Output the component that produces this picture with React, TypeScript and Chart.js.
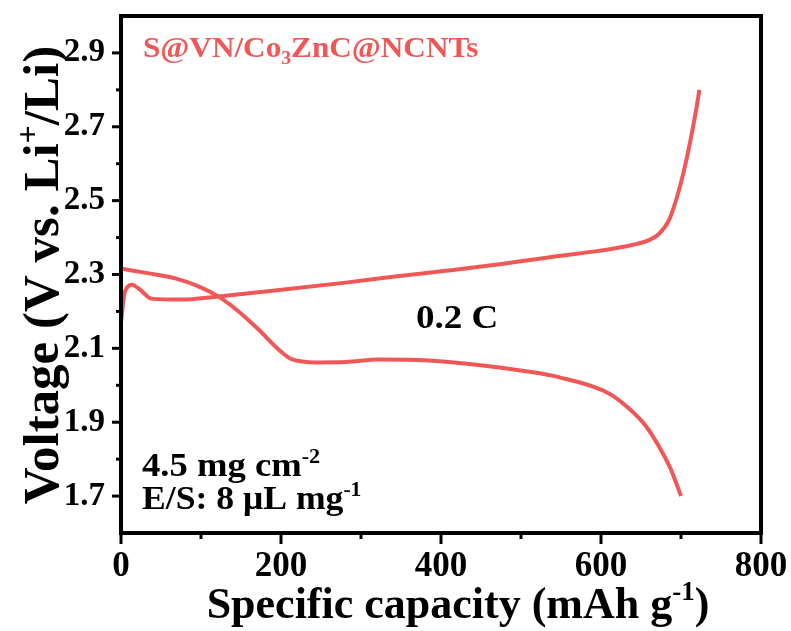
import React, { useEffect, useRef } from "react";
import { Chart, registerables } from "chart.js";

Chart.register(...registerables);

// Charge curve (mAh g-1, V)
const chargeCapacity = [0, 4, 9, 14, 22, 39, 76, 119, 181, 281, 345, 406, 471, 540, 597, 639, 660, 672, 685, 695, 704, 712, 719, 723];
const chargeVoltage = [2.17, 2.245, 2.268, 2.272, 2.262, 2.234, 2.232, 2.24, 2.254, 2.278, 2.295, 2.31, 2.327, 2.348, 2.364, 2.38, 2.393, 2.409, 2.447, 2.51, 2.584, 2.665, 2.747, 2.8];

// Discharge curve (mAh g-1, V)
const dischargeCapacity = [0, 35, 69, 97, 122, 147, 172, 197, 214, 244, 281, 322, 385, 447, 506, 547, 610, 635, 656, 672, 687, 700];
const dischargeVoltage = [2.316, 2.303, 2.289, 2.268, 2.24, 2.2, 2.151, 2.097, 2.07, 2.062, 2.063, 2.07, 2.067, 2.055, 2.038, 2.022, 1.978, 1.937, 1.89, 1.836, 1.774, 1.7];

const xMajorTicks = [0, 200, 400, 600, 800];
const xMinorTicks = [100, 300, 500, 700];
const yMajorTicks = [1.7, 1.9, 2.1, 2.3, 2.5, 2.7, 2.9];
const yMinorTicks = [1.8, 2.0, 2.2, 2.4, 2.6, 2.8];

const RED = "rgb(240, 88, 88)";
const FONT = '"Liberation Serif", "Times New Roman", serif';

type Seg = { t: string; s?: "sup" | "sub" };

function drawRich(
  ctx: CanvasRenderingContext2D,
  segs: Seg[],
  x: number,
  y: number,
  size: number,
  color: string,
  align: "left" | "center",
  sx = 1
) {
  const widths = segs.map((seg) => {
    ctx.font = `bold ${seg.s ? Math.round(size * 0.62) : size}px ${FONT}`;
    return ctx.measureText(seg.t).width;
  });
  const total = widths.reduce((a, b) => a + b, 0);
  ctx.save();
  ctx.translate(x, y);
  ctx.scale(sx, 1);
  let cx = align === "center" ? -total / 2 : 0;
  ctx.fillStyle = color;
  ctx.textBaseline = "alphabetic";
  ctx.textAlign = "left";
  segs.forEach((seg, i) => {
    ctx.font = `bold ${seg.s ? Math.round(size * 0.62) : size}px ${FONT}`;
    const dy = seg.s === "sup" ? -size * 0.4 : seg.s === "sub" ? size * 0.22 : 0;
    ctx.fillText(seg.t, cx, dy);
    cx += widths[i];
  });
  ctx.restore();
}

const framePlugin = {
  id: "framePlugin",
  afterDraw(chart: any) {
    const { ctx, chartArea } = chart;
    const xs = chart.scales.x;
    const ys = chart.scales.y;
    const { left, right, top, bottom } = chartArea;
    ctx.save();
    ctx.strokeStyle = "#000";
    ctx.lineWidth = 3;
    ctx.lineCap = "butt";
    const tick = (vals: number[], len: number, axis: "x" | "y") => {
      vals.forEach((v) => {
        ctx.beginPath();
        if (axis === "x") {
          const px = xs.getPixelForValue(v);
          ctx.moveTo(px, bottom);
          ctx.lineTo(px, bottom + len);
        } else {
          const py = ys.getPixelForValue(v);
          ctx.moveTo(left, py);
          ctx.lineTo(left - len, py);
        }
        ctx.stroke();
      });
    };
    tick(xMajorTicks, 11, "x");
    tick(xMinorTicks, 6, "x");
    tick(yMajorTicks, 9, "y");
    tick(yMinorTicks, 5, "y");
    ctx.lineWidth = 4;
    ctx.strokeRect(left, top, right - left, bottom - top);

    // axis titles
    drawRich(
      ctx,
      [{ t: "Specific capacity (mAh g" }, { t: "-1", s: "sup" }, { t: ")" }],
      458,
      618,
      44,
      "#000",
      "center"
    );
    ctx.save();
    ctx.translate(58, 275);
    ctx.rotate(-Math.PI / 2);
    drawRich(
      ctx,
      [{ t: "Voltage (V vs. Li" }, { t: "+", s: "sup" }, { t: "/Li)" }],
      0,
      0,
      51,
      "#000",
      "center"
    );
    ctx.restore();

    // annotations
    drawRich(
      ctx,
      [{ t: "S@VN/Co" }, { t: "3", s: "sub" }, { t: "ZnC@NCNTs" }],
      143,
      57,
      30,
      RED,
      "left",
      1.04
    );
    drawRich(ctx, [{ t: "0.2 C" }], 416, 328, 34, "#000", "left", 1.09);
    drawRich(ctx, [{ t: "4.5 mg cm" }, { t: "-2", s: "sup" }], 142, 476, 33, "#000", "left", 1.11);
    drawRich(ctx, [{ t: "E/S: 8 \u03bcL mg" }, { t: "-1", s: "sup" }], 142, 509, 33, "#000", "left", 1.08);
    ctx.restore();
  },
};

export default function App() {
  const ref = useRef<HTMLCanvasElement | null>(null);
  useEffect(() => {
    if (!ref.current) return;
    const chart = new Chart(ref.current, {
      type: "line",
      data: {
        datasets: [
          {
            label: "Charge",
            data: chargeCapacity.map((c, i) => ({ x: c, y: chargeVoltage[i] })),
            borderColor: RED,
            borderWidth: 4,
            pointRadius: 0,
            fill: false,
            cubicInterpolationMode: "monotone",
          },
          {
            label: "Discharge",
            data: dischargeCapacity.map((c, i) => ({ x: c, y: dischargeVoltage[i] })),
            borderColor: RED,
            borderWidth: 4,
            pointRadius: 0,
            fill: false,
            cubicInterpolationMode: "monotone",
          },
        ],
      },
      options: {
        responsive: false,
        animation: false,
        layout: { padding: { left: 0, right: 30, top: 16, bottom: 0 } },
        plugins: { legend: { display: false }, tooltip: { enabled: false }, title: { display: false } },
        scales: {
          x: {
            type: "linear",
            min: 0,
            max: 800,
            afterFit: (s: any) => {
              s.height = 98;
              s.paddingLeft = 0;
              s.paddingRight = 0;
            },
            afterBuildTicks: (s: any) => {
              s.ticks = xMajorTicks.map((v) => ({ value: v }));
            },
            grid: { display: false, drawTicks: false },
            border: { display: false },
            ticks: {
              padding: 13,
              color: "#000",
              maxRotation: 0,
              autoSkip: false,
              font: { family: FONT, size: 35, weight: "bold" },
              callback: (v: any) => String(v),
            },
          },
          y: {
            type: "linear",
            min: 1.6,
            max: 3.0,
            afterFit: (s: any) => {
              s.width = 121;
              s.paddingTop = 0;
              s.paddingBottom = 0;
            },
            afterBuildTicks: (s: any) => {
              s.ticks = yMajorTicks.map((v) => ({ value: v }));
            },
            grid: { display: false, drawTicks: false },
            border: { display: false },
            ticks: {
              padding: 16,
              color: "#000",
              autoSkip: false,
              font: { family: FONT, size: 33, weight: "bold" },
              callback: (v: any) => Number(v).toFixed(1),
            },
          },
        },
      },
      plugins: [framePlugin],
    } as any);
    return () => chart.destroy();
  }, []);
  return (
    <div style={{ position: "absolute", left: 0, top: 0, width: 791, height: 631, background: "#fff" }}>
      <canvas ref={ref} width={791} height={631} style={{ display: "block" }} />
    </div>
  );
}
